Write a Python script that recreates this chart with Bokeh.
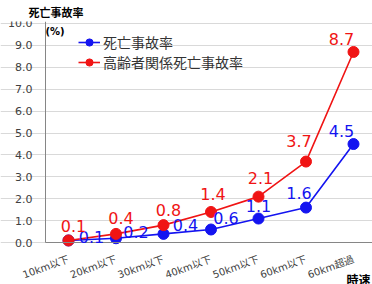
from bokeh.plotting import figure
from bokeh.models import ColumnDataSource, LabelSet, Label, FixedTicker, NumeralTickFormatter, Range1d
from bokeh.embed import file_html
from bokeh.resources import INLINE
from bokeh.core.properties import value

categories = ["10km以下", "20km以下", "30km以下", "40km以下", "50km以下", "60km以下", "60km超過"]
death_rate = [0.1, 0.2, 0.4, 0.6, 1.1, 1.6, 4.5]
elderly_death_rate = [0.1, 0.4, 0.8, 1.4, 2.1, 3.7, 8.7]
y_ticks = [0, 1, 2, 3, 4, 5, 6, 7, 8, 9, 10]
series_names = ["死亡事故率", "高齢者関係死亡事故率"]

# label placement (screen px offsets)
blue_dx = [23, 20, 22, 15, 0, -7, -12]
blue_dy = [-3, 0, 3, 6, 7, 9, 7]
red_dx = [5, 5, 5, 2, 2, -7, -12]
red_dy = [8, 10, 9, 12, 13, 15, 7]

BLUE = "#1414f0"
RED = "#f01414"
NUM_FONT = "'DejaVu Sans', 'Noto Sans CJK JP'"
JP_FONT = "'Noto Sans CJK JP'"

X_AXIS_AT = -0.484
X_END = 6.4

xs = list(range(len(categories)))
src_b = ColumnDataSource(dict(x=xs, y=death_rate, t=[f"{v:.1f}" for v in death_rate], dx=blue_dx, dy=blue_dy))
src_r = ColumnDataSource(dict(x=xs, y=elderly_death_rate, t=[f"{v:.1f}" for v in elderly_death_rate], dx=red_dx, dy=red_dy))

p = figure(width=372, height=284, output_backend="svg", toolbar_location=None,
           x_range=Range1d(-1.4316, X_END), y_range=Range1d(-1.909, 10.09),
           min_border_left=0, min_border_right=0, min_border_top=20, min_border_bottom=0)
p.outline_line_color = None
p.background_fill_color = "white"
p.border_fill_color = "white"

p.title.text = "死亡事故率"
p.title.align = "left"
p.title.offset = 28
p.title.standoff = 3
p.title.text_font = JP_FONT
p.title.text_font_size = "11px"
p.title.text_font_style = "bold"
p.title.text_color = "black"

p.xgrid.grid_line_color = None
p.ygrid.grid_line_color = "#d9d9d9"
p.ygrid.ticker = FixedTicker(ticks=y_ticks)
p.ygrid.bounds = (X_AXIS_AT, X_END)

p.yaxis.fixed_location = X_AXIS_AT
p.yaxis.ticker = FixedTicker(ticks=y_ticks)
p.yaxis.bounds = (0, 10.09)
p.yaxis.formatter = NumeralTickFormatter(format="0.0")
p.yaxis.major_label_text_font = NUM_FONT
p.yaxis.major_label_text_font_size = "11px"
p.yaxis.major_label_text_color = "#404040"
p.yaxis.major_tick_out = 0
p.yaxis.major_tick_in = 0
p.yaxis.major_label_standoff = 13
p.yaxis.axis_line_color = "#868686"
p.yaxis.major_tick_line_color = None
p.yaxis.minor_tick_line_color = None

p.xaxis.fixed_location = 0
p.xaxis.bounds = (X_AXIS_AT, X_END)
p.xaxis.ticker = FixedTicker(ticks=xs)
p.xaxis.major_label_overrides = {i: c for i, c in zip(xs, categories)}
p.xaxis.major_label_orientation = 0.35
p.xaxis.major_label_text_font = NUM_FONT
p.xaxis.major_label_text_font_size = "10px"
p.xaxis.major_label_text_color = "#404040"
p.xaxis.major_tick_out = 0
p.xaxis.major_tick_in = 0
p.xaxis.major_label_standoff = 16
p.xaxis.axis_line_color = "#868686"
p.xaxis.major_tick_line_color = None
p.xaxis.minor_tick_line_color = None

p.line("x", "y", source=src_b, color=BLUE, line_width=1.6, legend_label=series_names[0])
p.scatter("x", "y", source=src_b, size=11, color=BLUE, legend_label=series_names[0])
p.line("x", "y", source=src_r, color=RED, line_width=1.6, legend_label=series_names[1])
p.scatter("x", "y", source=src_r, size=11, color=RED, legend_label=series_names[1])

p.add_layout(LabelSet(x="x", y="y", text="t", source=src_b, x_offset="dx", y_offset="dy",
                      text_align="center", text_baseline="alphabetic", text_color=BLUE,
                      text_font=value(NUM_FONT), text_font_size="16px"))
p.add_layout(LabelSet(x="x", y="y", text="t", source=src_r, x_offset="dx", y_offset="dy",
                      text_align="center", text_baseline="alphabetic", text_color=RED,
                      text_font=value(NUM_FONT), text_font_size="16px"))

lg = p.legend[0]
lg.location = (78, 212)
lg.padding = 0
lg.margin = 0
lg.spacing = 0
lg.border_line_color = None
lg.background_fill_alpha = 0
lg.glyph_width = 22
lg.glyph_height = 18
lg.label_height = 18
lg.label_standoff = 3
lg.label_text_font = JP_FONT
lg.label_text_font_size = "14px"
lg.label_text_color = "#333333"

p.add_layout(Label(x=45, y=253, x_units="screen", y_units="screen", text="(%)",
                   text_align="left", text_baseline="alphabetic", text_font=NUM_FONT,
                   text_font_size="10px", text_font_style="bold", text_color="black"))
p.add_layout(Label(x=370, y=5, x_units="screen", y_units="screen", text="時速",
                   text_align="right", text_baseline="alphabetic", text_font=JP_FONT,
                   text_font_size="12px", text_font_style="bold", text_color="black"))

open("out.html", "w").write(file_html(p, INLINE))
